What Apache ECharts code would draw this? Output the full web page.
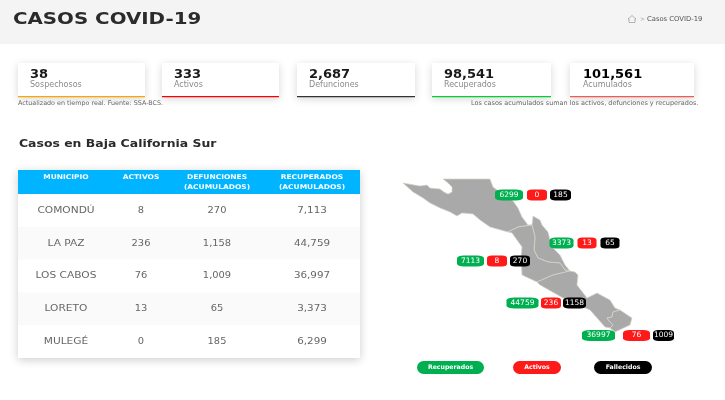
<!DOCTYPE html>
<html>
<head>
<meta charset="utf-8">
<title>Casos COVID-19</title>
<script src="https://cdn.jsdelivr.net/npm/echarts@6/dist/echarts.min.js"></script>
<style>
html, body { margin: 0; padding: 0; background: #fff; }
#main { width: 725px; height: 400px; }
</style>
</head>
<body>
<div id="main"></div>
<script>
var kpiLabels = ["Sospechosos", "Activos", "Defunciones", "Recuperados", "Acumulados"];
var kpiValues = [38, 333, 2687, 98541, 101561];

var municipios = ["COMONDÚ", "LA PAZ", "LOS CABOS", "LORETO", "MULEGÉ"];
var activos = [8, 236, 76, 13, 0];
var defunciones = [270, 1158, 1009, 65, 185];
var recuperados = [7113, 44759, 36997, 3373, 6299];

// map outlines, y grows downwards
var regionNames = ["Mulegé", "Loreto", "Comondú", "La Paz", "Los Cabos"];
var regionOutlines = [
    [[403,183],[420,186],[427,185],[430,188],[440,189],[444,192],[448,194],[452,192],[452,187],[448,183],[443,179],[490,179],[493,187],[497,190],[513,201],[518,208],[522,217],[528,225],[532,225],[518,227],[508,232],[490,227],[480,220],[473,214],[462,213],[457,216],[450,212],[440,208],[430,203],[423,198],[413,192]],
    [[532,225],[533,216],[540,220],[542,225],[548,232],[550,240],[553,248],[560,255],[565,265],[570,271],[565,270],[560,263],[548,262],[538,258],[534,250],[535,237]],
    [[508,232],[518,227],[532,225],[535,237],[534,250],[538,258],[548,262],[560,263],[565,270],[570,271],[553,275],[537,282],[522,275],[521,257],[522,247],[512,233]],
    [[537,282],[553,275],[570,271],[575,272],[578,275],[577,285],[587,298],[597,293],[610,300],[615,308],[620,310],[613,312],[612,317],[607,318],[610,322],[613,325],[610,328],[605,327],[590,310],[583,307],[563,298],[540,285]],
    [[620,310],[632,318],[630,325],[615,332],[610,328],[613,325],[610,322],[607,318],[612,317],[613,312]]
];

// where the pills of each municipio sit on the map, same order as municipios
var pillRows = [261, 303, 335.5, 243, 195];
var pillCentersRecuperados = [470.5, 522.5, 598.5, 561.5, 509];
var pillCentersActivos = [497, 551, 636.5, 587, 537];
var pillCentersFallecidos = [520, 574.5, 663.5, 610, 560.5];
var pillWidthsRecuperados = [27, 32, 33, 24, 28];
var pillWidthsActivos = [20, 20, 27, 19, 20];
var pillWidthsFallecidos = [20, 23, 21, 19, 21];

var FONT = '"DejaVu Sans", sans-serif';
var VERDE = "#00b050", ROJO = "#ff1a1a", NEGRO = "#000000";

function miles(n) {
    return n.toLocaleString("en-US");
}

// the reference text is stretched sideways, stretch = horizontal scale
function texto(x, y, str, size, color, weight, align, stretch) {
    return {
        type: "text", x: x, y: y, silent: true, scaleX: stretch || 1,
        style: {
            text: str, fill: color, textAlign: align || "left", textVerticalAlign: "middle",
            font: (weight || "normal") + " " + size + "px " + FONT
        }
    };
}

function rect(x, y, w, h, fill, extra) {
    var style = { fill: fill };
    for (var k in extra) { style[k] = extra[k]; }
    return { type: "rect", silent: true, shape: { x: x, y: y, width: w, height: h, r: (extra && extra.r) || 0 }, style: style };
}

function buildGraphic() {
    var g = [];

    // header
    g.push(rect(0, 0, 725, 44, "#f4f4f4"));
    g.push(texto(13, 19.5, "CASOS COVID-19", 16.5, "#2b2b2b", "bold", "left", 1.2));
    g.push({ type: "polyline", silent: true, shape: { points: [[628,19],[632,15.5],[636,19],[635,19],[635,22.5],[629,22.5],[629,19],[628,19]] }, style: { stroke: "#999", fill: "none", lineWidth: 0.7 } });
    g.push(texto(640, 19, ">", 6, "#999"));
    g.push(texto(647, 19, "Casos COVID-19", 6.8, "#555"));

    // KPI cards
    var cardX = [18, 162, 297, 432, 570];
    var cardW = [127, 117, 118, 119, 124];
    var cardLine = ["#ffa500", "#ff0000", "#333333", "#00d030", "#f55a50"];
    var numX = [30, 174, 309, 444, 583];
    for (var i = 0; i < kpiValues.length; i++) {
        g.push(rect(cardX[i], 63, cardW[i], 34, "#fff", { shadowBlur: 8, shadowColor: "rgba(0,0,0,0.16)", shadowOffsetY: 2 }));
        g.push(rect(cardX[i], 96, cardW[i], 1.2, cardLine[i]));
        g.push(texto(numX[i], 74.5, miles(kpiValues[i]), 13, i == 4 ? "#000" : "#1a1a1a", "bold"));
        g.push(texto(numX[i], 85, kpiLabels[i], 8, "#8a8a8a"));
    }
    g.push(texto(18, 103, "Actualizado en tiempo real. Fuente: SSA-BCS.", 6.4, "#666"));
    g.push(texto(471, 103, "Los casos acumulados suman los activos, defunciones y recuperados.", 6.5, "#666"));

    g.push(texto(19, 144, "Casos en Baja California Sur", 11, "#2b2b2b", "bold", "left", 1.13));

    // table
    var colX = [66, 141, 217, 312];
    g.push(rect(18, 170, 342, 188, "#fff", { shadowBlur: 9, shadowColor: "rgba(0,0,0,0.2)", shadowOffsetY: 2 }));
    g.push(rect(18, 170, 342, 24, "#00b4ff"));
    g.push(texto(colX[0], 177, "MUNICIPIO", 6.5, "#fff", "bold", "center", 1.15));
    g.push(texto(colX[1], 177, "ACTIVOS", 6.5, "#fff", "bold", "center", 1.15));
    g.push(texto(colX[2], 177, "DEFUNCIONES", 6.5, "#fff", "bold", "center", 1.15));
    g.push(texto(colX[2], 187, "(ACUMULADOS)", 6.5, "#fff", "bold", "center", 1.15));
    g.push(texto(colX[3], 177, "RECUPERADOS", 6.5, "#fff", "bold", "center", 1.15));
    g.push(texto(colX[3], 187, "(ACUMULADOS)", 6.5, "#fff", "bold", "center", 1.15));
    for (var r = 0; r < municipios.length; r++) {
        var y = 194 + r * 32.8;
        if (r % 2 == 1) {
            g.push(rect(18, y, 342, 32.8, "#fafafa"));
        }
        var cy = y + 16.4;
        g.push(texto(colX[0], cy, municipios[r], 9, "#666", "normal", "center", 1.18));
        g.push(texto(colX[1], cy, miles(activos[r]), 9, "#666", "normal", "center", 1.1));
        g.push(texto(colX[2], cy, miles(defunciones[r]), 9, "#666", "normal", "center", 1.1));
        g.push(texto(colX[3], cy, miles(recuperados[r]), 9, "#666", "normal", "center", 1.15));
    }

    // legend pills under the map
    var leyenda = [["Recuperados", 417, 67, VERDE], ["Activos", 513, 48, ROJO], ["Fallecidos", 594, 58, NEGRO]];
    for (var l = 0; l < leyenda.length; l++) {
        g.push(rect(leyenda[l][1], 361, leyenda[l][2], 13, leyenda[l][3], { r: 6.5 }));
        g.push(texto(leyenda[l][1] + leyenda[l][2] / 2, 367.5, leyenda[l][0], 6.2, "#fff", "bold", "center"));
    }
    return g;
}

function buildGeoJson() {
    var features = [];
    for (var i = 0; i < regionNames.length; i++) {
        var ring = regionOutlines[i].map(function (p) { return [p[0], -p[1]]; });
        ring.push(ring[0]);
        features.push({
            type: "Feature",
            properties: { name: regionNames[i] },
            geometry: { type: "Polygon", coordinates: [ring] }
        });
    }
    return { type: "FeatureCollection", features: features };
}

function pillSeries(name, color, centers, widths, values) {
    return {
        type: "scatter",
        name: name,
        coordinateSystem: "geo",
        symbol: "roundRect",
        silent: true,
        itemStyle: { color: color, opacity: 1 },
        label: {
            show: true, position: "inside", color: "#fff", fontSize: 7.5, fontFamily: FONT,
            formatter: function (p) { return p.value[2]; }
        },
        data: values.map(function (v, i) {
            return { value: [centers[i], -pillRows[i], v], symbolSize: [widths[i], 11] };
        })
    };
}

echarts.registerMap("bcs", buildGeoJson());
var myChart = echarts.init(document.getElementById("main"), null, { renderer: "canvas" });
myChart.setOption({
    animation: false,
    graphic: { elements: buildGraphic() },
    geo: {
        map: "bcs",
        silent: true,
        roam: false,
        aspectScale: 1,
        left: 403,
        top: 179,
        width: 229,
        height: 153,
        boundingCoords: [[403, -179], [632, -332]],
        label: { show: false },
        itemStyle: { areaColor: "#a9a9a9", borderColor: "#d9d6c8", borderWidth: 0.7 }
    },
    series: [
        pillSeries("Recuperados", VERDE, pillCentersRecuperados, pillWidthsRecuperados, recuperados),
        pillSeries("Activos", ROJO, pillCentersActivos, pillWidthsActivos, activos),
        pillSeries("Fallecidos", NEGRO, pillCentersFallecidos, pillWidthsFallecidos, defunciones)
    ]
});
</script>
</body>
</html>
